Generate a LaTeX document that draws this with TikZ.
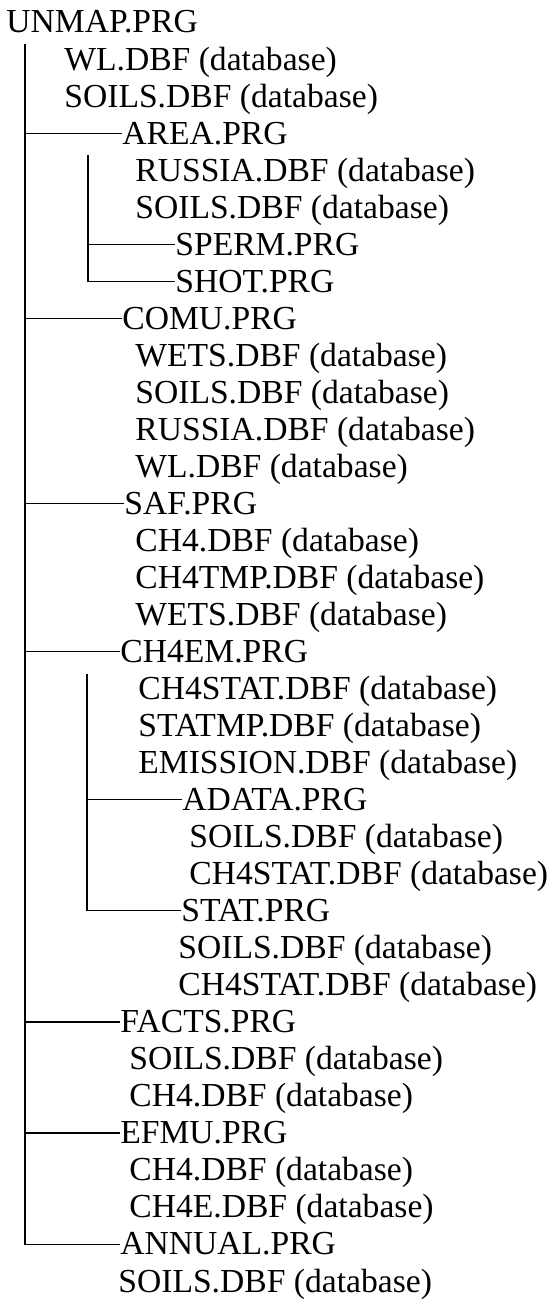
\documentclass[tikz,border=0pt]{standalone}
\usepackage{fontspec}
\setmainfont{Liberation Serif}
\usetikzlibrary{calc,math}
\tikzset{every picture/.style={/utils/exec={\fontsize{16.8}{19}\selectfont}}}
\tikzset{entry/.style={anchor=base west,inner sep=0pt}}
\tikzset{branch/.style={line width=0.6pt}}

\begin{document}
\begin{tikzpicture}[x=0.5pt,y=-18.515pt]
    \tikzmath{\t=0.3;}
    \useasboundingbox (0,-0.891) rectangle (558,34.27);
    \node [entry] (unmap) at (6,0) {UNMAP.PRG};
    \node [entry] (wla) at (64,1) {WL.DBF (database)};
    \node [entry] (soilsa) at (64,2) {SOILS.DBF (database)};
    \node [entry] (area) at (122,3) {AREA.PRG};
    \node [entry] (russiaa) at (135,4) {RUSSIA.DBF (database)};
    \node [entry] (soilsb) at (135,5) {SOILS.DBF (database)};
    \node [entry] (sperm) at (175,6) {SPERM.PRG};
    \node [entry] (shot) at (175,7) {SHOT.PRG};
    \node [entry] (comu) at (122,8) {COMU.PRG};
    \node [entry] (wetsa) at (135,9) {WETS.DBF (database)};
    \node [entry] (soilsc) at (135,10) {SOILS.DBF (database)};
    \node [entry] (russiab) at (135,11) {RUSSIA.DBF (database)};
    \node [entry] (wlb) at (135,12) {WL.DBF (database)};
    \node [entry] (saf) at (124,13) {SAF.PRG};
    \node [entry] (cha) at (135,14) {CH4.DBF (database)};
    \node [entry] (chtmp) at (135,15) {CH4TMP.DBF (database)};
    \node [entry] (wetsb) at (135,16) {WETS.DBF (database)};
    \node [entry] (chem) at (120,17) {CH4EM.PRG};
    \node [entry] (chstata) at (138,18) {CH4STAT.DBF (database)};
    \node [entry] (statmp) at (138,19) {STATMP.DBF (database)};
    \node [entry] (emission) at (138,20) {EMISSION.DBF (database)};
    \node [entry] (adata) at (182,21) {ADATA.PRG};
    \node [entry] (soilsd) at (189,22) {SOILS.DBF (database)};
    \node [entry] (chstatb) at (189,23) {CH4STAT.DBF (database)};
    \node [entry] (stat) at (181,24) {STAT.PRG};
    \node [entry] (soilse) at (178,25) {SOILS.DBF (database)};
    \node [entry] (chstatc) at (178,26) {CH4STAT.DBF (database)};
    \node [entry] (facts) at (120,27) {FACTS.PRG};
    \node [entry] (soilsf) at (129,28) {SOILS.DBF (database)};
    \node [entry] (chb) at (129,29) {CH4.DBF (database)};
    \node [entry] (efmu) at (120,30) {EFMU.PRG};
    \node [entry] (chc) at (129,31) {CH4.DBF (database)};
    \node [entry] (che) at (129,32) {CH4E.DBF (database)};
    \node [entry] (annual) at (120,33) {ANNUAL.PRG};
    \node [entry] (soilsg) at (118,34) {SOILS.DBF (database)};
    \coordinate (trunk) at (25,\t);
    \coordinate (areatrunk) at (88,3+\t);
    \coordinate (chemtrunk) at (87,17+\t);
    \draw [branch] (trunk) |- (annual.west);
    \draw [branch] (trunk |- area.west) -- (area.west);
    \draw [branch] (trunk |- comu.west) -- (comu.west);
    \draw [branch] (trunk |- saf.west) -- (saf.west);
    \draw [branch] (trunk |- chem.west) -- (chem.west);
    \draw [branch] (trunk |- facts.west) -- (facts.west);
    \draw [branch] (trunk |- efmu.west) -- (efmu.west);
    \draw [branch] (areatrunk) |- (shot.west);
    \draw [branch] (areatrunk |- sperm.west) -- (sperm.west);
    \draw [branch] (chemtrunk) |- (stat.west);
    \draw [branch] (chemtrunk |- adata.west) -- (adata.west);
\end{tikzpicture}
\end{document}
